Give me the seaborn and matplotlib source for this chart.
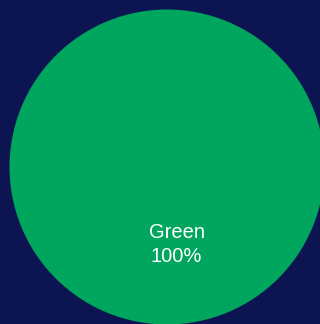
import matplotlib
matplotlib.use("Agg")
import matplotlib.pyplot as plt
import seaborn as sns

# Share of each category
categories = ["Green"]
values = [100]
colors = ["#00a65d"]

sns.set_theme(style="white")
plt.rcParams["font.family"] = ["Liberation Sans", "DejaVu Sans"]

bg = "#0c1552"
fig = plt.figure(figsize=(3.2, 3.24), dpi=100, facecolor=bg)
ax = fig.add_axes([0, 0, 1, 1])
ax.set_facecolor(bg)

labels_iter = iter(categories)


def fmt(pct):
    return f"{next(labels_iter)}\n{pct:.0f}%"


# start angle chosen as an exact binary fraction of a turn so the single
# full-circle wedge spans exactly 360 degrees
wedges, _, autotexts = ax.pie(
    values,
    colors=colors,
    center=(167, 157),
    radius=157.5,
    startangle=97.03125,
    counterclock=True,
    autopct=fmt,
    pctdistance=0.495,
    wedgeprops=dict(linewidth=0),
    textprops=dict(color="white", fontsize=14.5, linespacing=1.3),
    frame=True,
)
for t in autotexts:
    t.set_ha("center")
    t.set_va("center")

ax.set_xlim(0, 320)
ax.set_ylim(0, 324)
ax.set_aspect("equal")
ax.set_axis_off()

fig.savefig("out.png", dpi=100, facecolor=bg)
